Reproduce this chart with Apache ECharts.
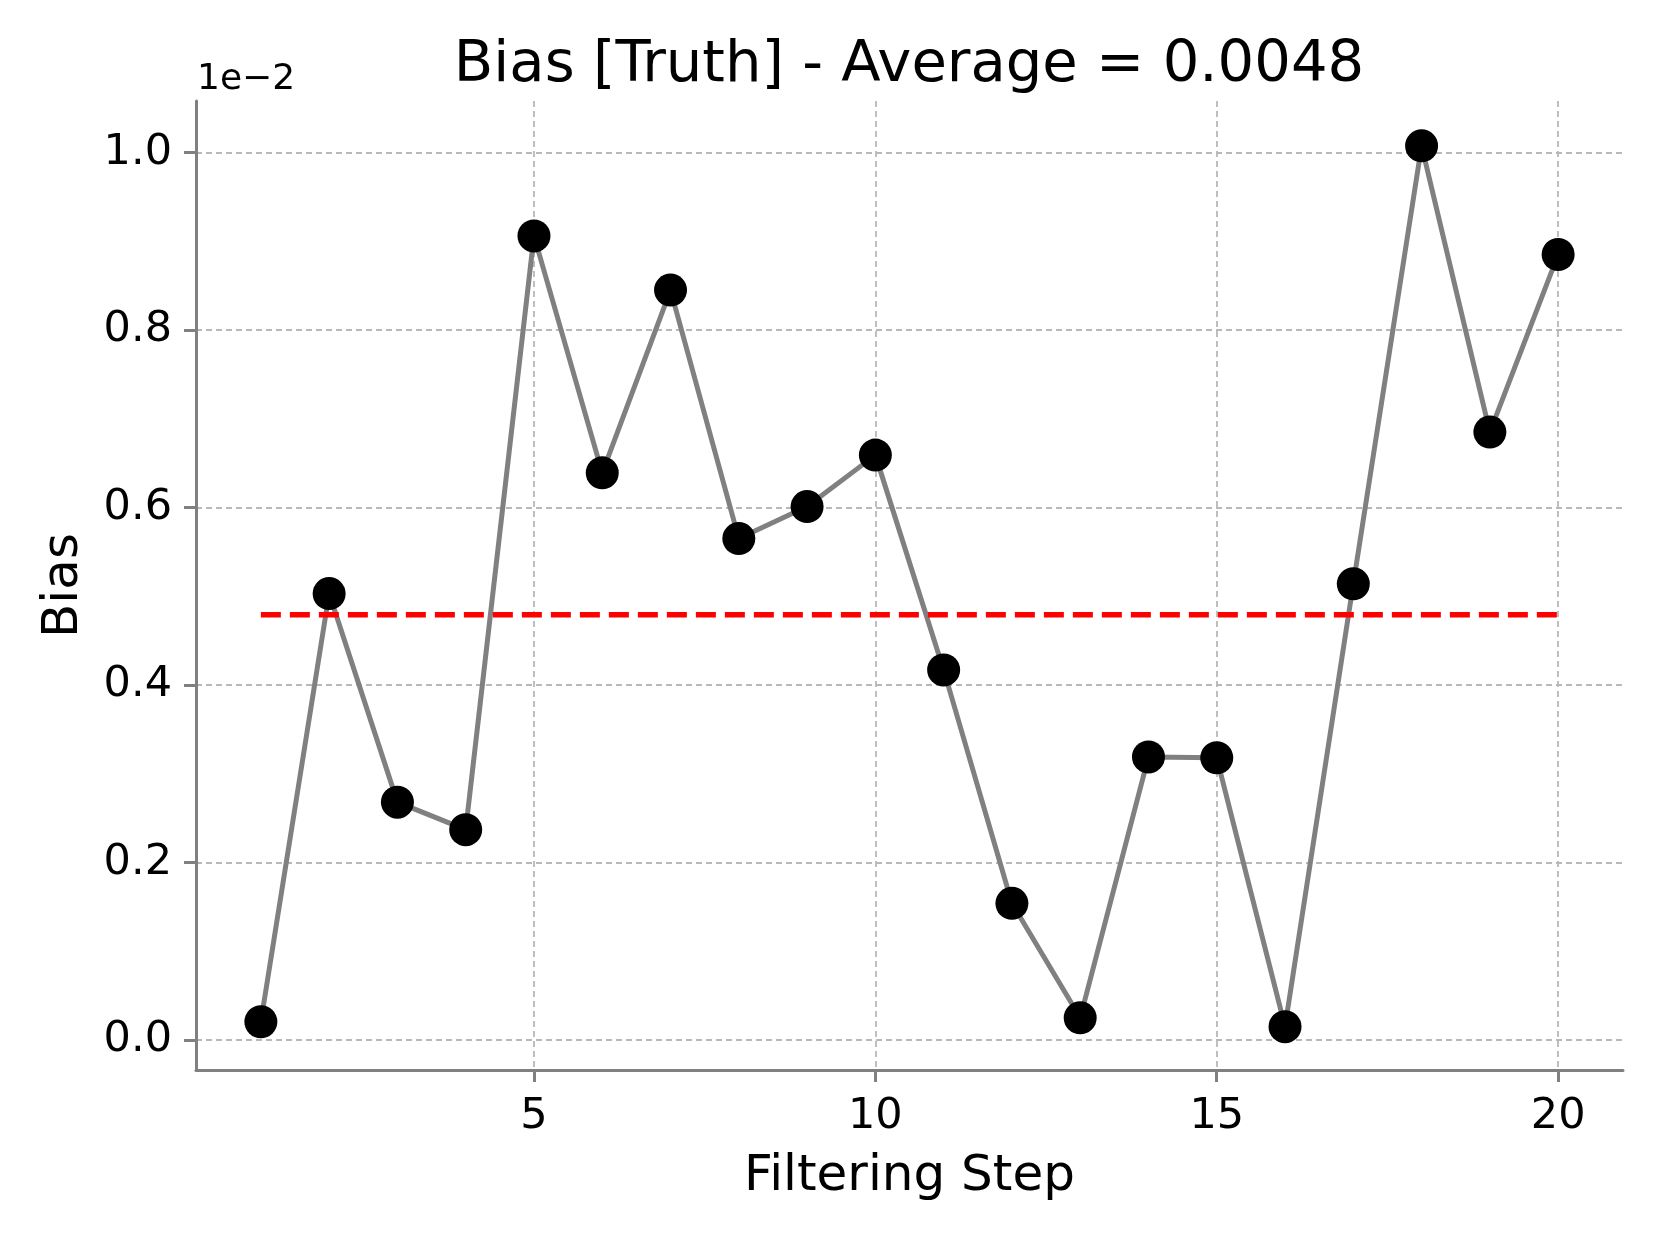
<!DOCTYPE html>
<html>
<head>
<meta charset="utf-8">
<script src="https://cdn.jsdelivr.net/npm/echarts@6/dist/echarts.min.js"></script>
<style>
  html, body { margin: 0; padding: 0; background: #ffffff; }
  #chart { width: 1660px; height: 1245px; }
</style>
</head>
<body>
<div id="chart"></div>
<script>
// ---- data ----
const steps = [1, 2, 3, 4, 5, 6, 7, 8, 9, 10, 11, 12, 13, 14, 15, 16, 17, 18, 19, 20];
const biasValues = [0.000206, 0.00503, 0.00268, 0.00237, 0.00906, 0.00639, 0.00845, 0.00565, 0.00601, 0.00659,
                    0.00417, 0.00154, 0.00025, 0.00319, 0.00318, 0.00015, 0.00514, 0.010075, 0.00685, 0.00885];
const xTicks = [5, 10, 15, 20];
const yTicks = [0, 0.002, 0.004, 0.006, 0.008, 0.01];
const titlePrefix = 'Bias [Truth] - Average = ';
const xName = 'Filtering Step';
const yName = 'Bias';
const offsetLabel = '1e\u22122';

const mean = biasValues.reduce((a, b) => a + b, 0) / biasValues.length;
const lineData = steps.map((s, i) => [s, biasValues[i]]);
const meanData = [[steps[0], mean], [steps[steps.length - 1], mean]];

const FONT = 'DejaVu Sans';
const AXIS_GRAY = '#808080';

const chart = echarts.init(document.getElementById('chart'), null, { renderer: 'canvas' });
chart.setOption({
  animation: false,
  backgroundColor: '#ffffff',
  title: {
    text: titlePrefix + mean.toFixed(4),
    left: 904,
    top: 32,
    textAlign: 'center',
    textStyle: { fontFamily: FONT, fontSize: 57.6, fontWeight: 'normal', color: '#000' }
  },
  graphic: [{
    type: 'text',
    left: 197,
    top: 62,
    style: { text: offsetLabel, font: '36px "DejaVu Sans"', fill: '#000' }
  }],
  grid: { left: 196, right: 37, top: 101, bottom: 175 },
  xAxis: {
    type: 'value',
    min: 0.05,
    max: 20.95,
    name: xName,
    nameLocation: 'middle',
    nameGap: 82,
    nameTextStyle: { fontFamily: FONT, fontSize: 50, color: '#000' },
    axisLine: { show: true, onZero: false, lineStyle: { color: AXIS_GRAY, width: 3 } },
    axisTick: { show: true, inside: false, length: 12, customValues: xTicks, lineStyle: { color: AXIS_GRAY, width: 3 } },
    axisLabel: { customValues: xTicks, margin: 25, fontFamily: FONT, fontSize: 43, color: '#000' },
    splitLine: { show: true, lineStyle: { color: '#b8b8b8', width: 1.8, type: [6, 4] } },
    minorTick: { show: false }
  },
  yAxis: {
    type: 'value',
    min: -0.000338,
    max: 0.01058,
    name: yName,
    nameLocation: 'middle',
    nameGap: 107,
    nameRotate: 90,
    nameTextStyle: { fontFamily: FONT, fontSize: 50, color: '#000' },
    axisLine: { show: true, onZero: false, lineStyle: { color: AXIS_GRAY, width: 3 } },
    axisTick: { show: true, inside: false, length: 12, customValues: yTicks, lineStyle: { color: AXIS_GRAY, width: 3 } },
    axisLabel: {
      customValues: yTicks, margin: 24, fontFamily: FONT, fontSize: 43, color: '#000',
      formatter: v => (v * 100).toFixed(1)
    },
    splitLine: { show: true, lineStyle: { color: '#b8b8b8', width: 1.8, type: [6, 4] } }
  },
  series: [
    {
      type: 'line',
      data: lineData,
      z: 2,
      lineStyle: { color: '#808080', width: 5 },
      symbol: 'circle',
      symbolSize: 33,
      showAllSymbol: true,
      itemStyle: { color: '#000', borderWidth: 0 },
      emphasis: { disabled: true }
    },
    {
      type: 'line',
      data: meanData,
      z: 3,
      symbol: 'none',
      lineStyle: { color: '#ff0000', width: 5.5, type: [20, 9] },
      emphasis: { disabled: true }
    }
  ]
});
</script>
</body>
</html>
